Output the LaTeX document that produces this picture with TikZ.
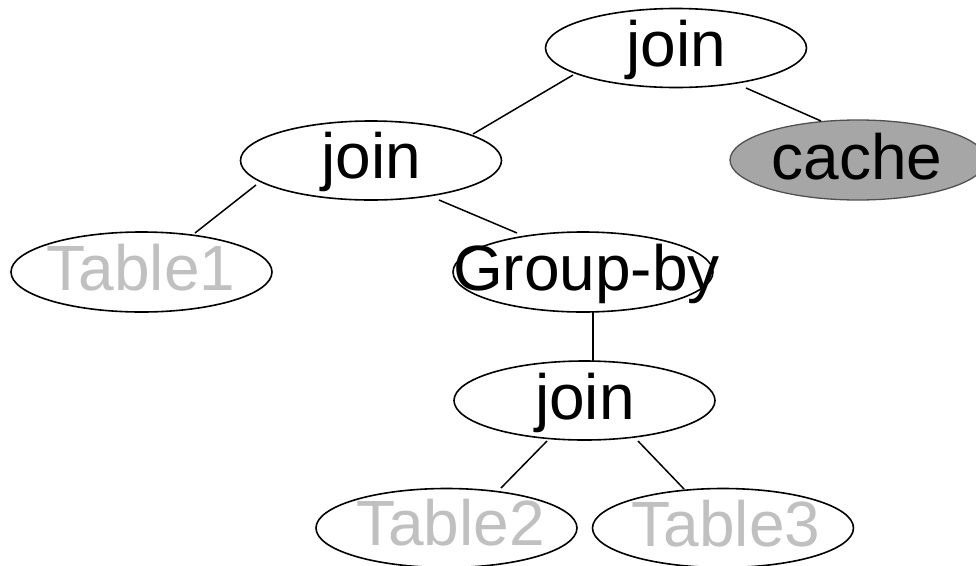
\documentclass[tikz,border=0pt]{standalone}
\usepackage{fontspec}
\setmainfont{Liberation Sans}
\usetikzlibrary{shapes.geometric,calc}
\definecolor{tablegray}{RGB}{192,192,192}
\definecolor{cachefill}{RGB}{166,166,166}
\definecolor{cacheedge}{RGB}{80,80,80}
\tikzset{
  opnode/.style={ellipse, draw=black, line width=1.6pt, inner sep=0pt,
                 minimum width=261pt, minimum height=79pt},
  cachenode/.style={opnode, fill=cachefill, draw=cacheedge, line width=1.3pt,
                 minimum width=256pt, minimum height=80pt},
  lbl/.style={inner sep=0pt, anchor=base, font=\fontsize{64}{72}\selectfont},
  tbl/.style={lbl, text=tablegray},
  edge/.style={line width=1.5pt, draw=black}
}
\begin{document}
\begin{tikzpicture}[x=1pt, y=-1pt]
  \useasboundingbox (0,0) rectangle (976,565);
  % operator ellipses
  \node[opnode]    (top)   at (676,48)     {};
  \node[cachenode] (cache) at (858,160)    {};
  \node[opnode]    (mid)   at (371,160.5)  {};
  \node[opnode, minimum height=80pt] (t1) at (141.5,272) {};
  \node[opnode, minimum width=260pt, minimum height=80pt] (gb) at (583,272) {};
  \node[opnode]    (low)   at (584.5,400.5) {};
  \node[opnode]    (t2)    at (446.5,528)  {};
  \node[opnode]    (t3)    at (723,528)    {};
  % labels
  \node[lbl] (topL)   at ($(top)+(0.5,18.7)$)   {join};
  \node[lbl] (cacheL) at ($(cache)+(-1,19)$)    {cache};
  \node[lbl] (midL)   at ($(mid)+(0.5,17.8)$)   {join};
  \node[tbl] (t1L)    at ($(t1)+(-0.5,18)$)     {Table1};
  \node[lbl] (gbL)    at ($(gb)+(3.5,18)$)      {Group-by};
  \node[lbl] (lowL)   at ($(low)+(0.5,18.5)$)   {join};
  \node[tbl] (t2L)    at ($(t2)+(4,17.5)$)      {Table2};
  \node[tbl] (t3L)    at ($(t3)+(3,18)$)        {Table3};
  % tree edges
  \draw[edge] ($(top)+(-103,27)$)  -- ($(mid)+(102,-26.5)$);
  \draw[edge] ($(top)+(70,40)$)    -- ($(cache)+(-37,-39)$);
  \draw[edge] ($(mid)+(-115,24.5)$) -- ($(t1)+(53.5,-39)$);
  \draw[edge] ($(mid)+(68,39.5)$)  -- ($(gb)+(-66,-39)$);
  \draw[edge] ($(gb)+(10,40)$)     -- ($(low)+(8.5,-39.5)$);
  \draw[edge] ($(low)+(-37.5,40.5)$) -- ($(t2)+(54.5,-40)$);
  \draw[edge] ($(low)+(53.5,40.5)$)  -- ($(t3)+(-39,-39)$);
\end{tikzpicture}
\end{document}
